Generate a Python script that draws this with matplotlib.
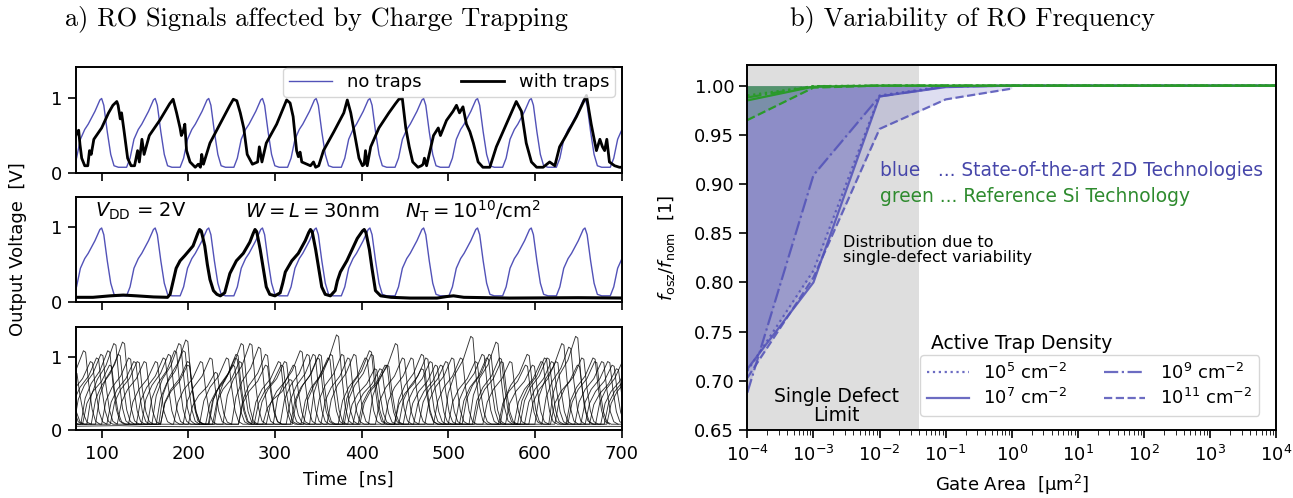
import matplotlib.pyplot as plt
from matplotlib.ticker import FormatStrFormatter

# ---------------- a) RO signals ----------------
# one trap-free oscillation, relative to its peak time [ns]
cycle_dt = [-33, -29, -24.5, -19.5, -15.5, -7.7, -2, 0, 2.5, 6.5, 10.5, 14.3, 19.3]
cycle_v = [0.08, 0.2, 0.45, 0.58, 0.65, 0.82, 0.97, 0.99, 0.9, 0.55, 0.25, 0.1, 0.08]
peaks_notraps = [38, 100, 161.8, 223.6, 285.6, 347.6, 409.6, 471.6, 533.8, 595.8, 657.8, 720]

# top panel, with traps
t_traps1 = [70, 72, 73.5, 75, 77, 80.5, 84, 86, 88, 91, 100, 108, 113, 117.5, 119, 121.5, 123, 124.5,
            126, 130, 134, 138, 141.5, 143.5, 146.5, 149, 155, 167, 178.5, 182.5, 186.5, 190.5, 192,
            194, 196, 198, 202, 208, 211.5, 214, 215.5, 217.5, 225, 236.5, 248, 252, 256, 260, 264,
            268, 274, 280, 282, 285, 290, 302, 311, 313.5, 317.5, 321, 325, 327, 329, 331, 337, 341,
            344.5, 347, 350.5, 356, 368, 379.5, 383.5, 387.5, 393, 397, 401, 403, 404.5, 406.5, 410.5,
            420, 431.5, 439, 443, 447, 449, 451, 455, 459, 465, 469, 471, 472.5, 475, 483, 488.5, 491,
            498, 505.5, 509.5, 513, 517, 521, 525, 529, 534.5, 540, 548, 555.5, 567, 578.5, 584.5, 590,
            596, 602, 609.5, 617, 623, 628.5, 636, 648, 659.5, 665, 671, 675, 678, 680.5, 683, 686,
            692, 697.5, 700]
v_traps1 = [0.49, 0.55, 0.57, 0.38, 0.2, 0.1, 0.1, 0.3, 0.25, 0.45, 0.6, 0.8, 0.9, 0.95, 0.9, 0.72, 0.8, 0.68,
            0.55, 0.2, 0.1, 0.1, 0.3, 0.15, 0.45, 0.25, 0.5, 0.7, 0.92, 0.98, 0.8, 0.6, 0.5,
            0.55, 0.65, 0.3, 0.15, 0.08, 0.12, 0.08, 0.25, 0.12, 0.4, 0.65, 0.9, 0.98, 0.96, 0.8, 0.6,
            0.25, 0.12, 0.15, 0.35, 0.15, 0.4, 0.65, 0.9, 0.97, 0.93, 0.75, 0.3, 0.22, 0.28, 0.15, 0.12, 0.1,
            0.15, 0.08, 0.1, 0.3, 0.55, 0.8, 0.97, 0.8, 0.45, 0.2, 0.1, 0.12, 0.3, 0.1, 0.35,
            0.6, 0.8, 0.92, 0.98, 0.99, 0.8, 0.6, 0.35, 0.15, 0.08, 0.1, 0.12, 0.2, 0.1, 0.5, 0.6, 0.5,
            0.7, 0.82, 0.9, 0.8, 0.88, 0.65, 0.55, 0.4, 0.15, 0.08, 0.08, 0.35, 0.65, 0.95, 0.82, 0.4,
            0.15, 0.08, 0.08, 0.15, 0.1, 0.35, 0.5, 0.75, 1.03, 0.65, 0.3, 0.45, 0.35, 0.3, 0.45, 0.15,
            0.1, 0.08, 0.08]

# middle panel, with traps
t_traps2 = [60, 90, 110, 125, 140, 160, 176, 179, 183, 186, 190.5, 196, 205.5, 211, 213, 215, 219, 222,
            225, 229, 233, 237, 242, 245, 248, 255.5, 263.5, 271, 275, 277, 279, 283, 286.5, 290, 294,
            300, 306, 309, 312, 319.5, 327, 335, 339, 341, 343, 347, 350.5, 354, 358, 364, 369.5, 372,
            375.5, 383, 389, 395, 401, 403, 405, 409, 412, 416, 422, 434, 456, 487, 498, 506, 518, 571,
            650, 710]
v_traps2 = [0.06, 0.06, 0.08, 0.09, 0.08, 0.065, 0.06, 0.1, 0.3, 0.45, 0.55, 0.62, 0.75, 0.92, 0.97, 0.95, 0.75, 0.5,
            0.3, 0.15, 0.1, 0.08, 0.12, 0.25, 0.38, 0.55, 0.65, 0.8, 0.92, 0.97, 0.94, 0.7, 0.45, 0.2, 0.1,
            0.08, 0.12, 0.25, 0.4, 0.55, 0.65, 0.82, 0.93, 0.97, 0.94, 0.7, 0.45, 0.2, 0.1, 0.08, 0.15, 0.28,
            0.4, 0.55, 0.7, 0.85, 0.95, 0.97, 0.93, 0.7, 0.45, 0.15, 0.08, 0.06, 0.05, 0.05, 0.07, 0.08, 0.06, 0.05,
            0.055, 0.05]

# bottom panel: ensemble of trap realisations (peak times / heights)
ens_dt = [-32, -27, -20, -10, -4, -1, 1.5, 5, 9, 13, 18]
ens_frac = [0, 0.35, 0.55, 0.72, 0.9, 0.99, 0.97, 0.55, 0.2, 0.04, 0]
ens_base = 0.08
ens_peaks = [
    [45, 100, 163, 226, 290, 352, 416, 480, 545, 608, 670, 732],
    [50, 108, 172, 245, 312, 372, 440, 505, 572, 640, 702],
    [60, 125, 198, 272, 338, 405, 470, 527, 598, 648, 712],
    [55, 115, 185, 256, 330, 392, 458, 540, 615, 685],
    [40, 95, 150, 215, 282, 345, 410, 475, 556, 625, 690],
    [62, 120, 190, 260, 318, 385, 448, 515, 590, 655, 715],
    [35, 88, 142, 200, 262, 322, 378, 430, 492, 562, 632, 695],
    [52, 110, 178, 232, 290, 350, 412, 470, 532, 592, 650, 708],
    [70, 132, 200, 252, 305, 365, 428, 498, 560, 620, 678],
    [80, 138, 195, 255, 308, 362, 422, 486, 548, 612, 668],
]
ens_heights = [
    [1.0, 1.05, 0.95, 1.0, 0.9, 1.05, 0.85, 0.95, 1.0, 0.95, 0.95, 0.9],
    [1.0, 1.1, 1.0, 1.0, 0.95, 1.32, 1.2, 1.0, 0.95, 1.15, 0.95],
    [0.9, 1.22, 1.25, 1.2, 1.05, 1.0, 1.05, 1.3, 0.9, 1.3, 0.9],
    [0.95, 1.2, 1.1, 1.05, 1.1, 1.05, 1.0, 1.05, 1.0, 0.95],
    [0.9, 1.0, 0.95, 0.95, 1.15, 1.05, 1.1, 1.0, 1.22, 0.95, 0.9],
    [0.9, 1.05, 1.2, 0.95, 0.7, 1.0, 1.0, 1.0, 0.9, 1.0, 0.9],
    [0.9, 0.95, 0.95, 0.95, 1.2, 0.9, 1.05, 0.9, 0.9, 0.95, 1.2, 0.85],
    [0.9, 0.9, 1.05, 0.8, 1.05, 1.0, 1.05, 0.85, 0.95, 1.05, 0.9, 0.9],
    [0.8, 1.0, 0.9, 0.9, 0.95, 1.05, 0.9, 0.95, 1.0, 0.95, 0.95],
    [1.1, 0.95, 1.1, 1.0, 0.9, 1.0, 0.85, 0.9, 1.05, 1.0, 1.0],
]
flat_t = [60, 120, 150, 200, 400, 700, 710]
flat_v = [0.05, 0.06, 0.05, 0.045, 0.05, 0.05, 0.05]

# ---------------- b) frequency variability ----------------
area = [1e-4, 1e-3, 1e-2, 1e-1, 1e0, 1e1, 1e2, 1e3, 1e4]
area_1e11 = [1e-4, 1e-3, 1e-2, 1e-1, 1e0]
f2d_1e5 = [0.710, 0.812, 0.990, 0.9995, 1.0, 1.0, 1.0, 1.0, 1.0]
f2d_1e7 = [0.712, 0.800, 0.989, 0.9985, 1.0, 1.0, 1.0, 1.0, 1.0]
f2d_1e9 = [0.688, 0.909, 0.989, 0.999, 1.0, 1.0, 1.0, 1.0, 1.0]
f2d_1e11 = [0.703, 0.805, 0.956, 0.986, 0.997]
fsi_1e5 = [0.990, 0.9995, 1.0, 1.0, 1.0, 1.0, 1.0, 1.0, 1.0]
fsi_1e7 = [0.985, 0.999, 1.0, 1.0, 1.0, 1.0, 1.0, 1.0, 1.0]
fsi_1e9 = [0.988, 0.9993, 1.0, 1.0, 1.0, 1.0, 1.0, 1.0, 1.0]
fsi_1e11 = [0.965, 0.998, 1.0, 1.0, 1.0, 1.0, 1.0, 1.0, 1.0]
density_labels = ['$10^{5}$ cm$^{-2}$', '$10^{7}$ cm$^{-2}$', '$10^{9}$ cm$^{-2}$', '$10^{11}$ cm$^{-2}$']

plt.rcParams['font.size'] = 13
plt.rcParams['axes.linewidth'] = 1.4
plt.rcParams['xtick.major.width'] = 1.2
plt.rcParams['ytick.major.width'] = 1.2
plt.rcParams['xtick.major.size'] = 6
plt.rcParams['ytick.major.size'] = 6
plt.rcParams['xtick.minor.size'] = 3.5
plt.rcParams['xtick.major.pad'] = 4.5

blue = '#5252b8'
green = '#2a9a2a'

fig = plt.figure(figsize=(12.93, 4.98), dpi=100)
rects = [[0.0585, 0.652, 0.4222, 0.214],
         [0.0585, 0.394, 0.4222, 0.211],
         [0.0585, 0.1365, 0.4222, 0.206]]
axs = [fig.add_axes(r) for r in rects]

t_nt = [p + d for p in peaks_notraps for d in cycle_dt]
v_nt = cycle_v * len(peaks_notraps)

axs[0].plot(t_nt, v_nt, color=blue, lw=1.0, label='no traps')
axs[0].plot(t_traps1, v_traps1, color='k', lw=2.0, label='with traps')
axs[0].legend(loc='upper right', bbox_to_anchor=(1.004, 1.075), ncol=2, fontsize=13,
              handlelength=2.4, columnspacing=2.2, borderpad=0.3, labelspacing=0.2)

axs[1].plot(t_nt, v_nt, color=blue, lw=1.0)
axs[1].plot(t_traps2, v_traps2, color='k', lw=2.2)
axs[1].text(0.035, 0.86, r'$V_\mathrm{DD}$ = 2V', transform=axs[1].transAxes, fontsize=14, va='center')
axs[1].text(0.31, 0.86, r'$W = L = 30$nm', transform=axs[1].transAxes, fontsize=14, va='center')
axs[1].text(0.603, 0.86, r'$N_\mathrm{T} = 10^{10}$/cm$^2$', transform=axs[1].transAxes, fontsize=14, va='center')

for pk, hs in zip(ens_peaks, ens_heights):
    tt, vv = [], []
    for p, h in zip(pk, hs):
        for d, fr in zip(ens_dt, ens_frac):
            tt.append(p + d)
            vv.append(ens_base + (h - ens_base) * fr)
    axs[2].plot(tt, vv, color='k', lw=0.65, alpha=0.8)
axs[2].plot(flat_t, flat_v, color='k', lw=0.65, alpha=0.8)

for i, ax in enumerate(axs):
    ax.set_xlim(70, 700)
    ax.set_ylim(0, 1.41)
    ax.set_yticks([0, 1])
    ax.set_xticks([100, 200, 300, 400, 500, 600, 700])
    if i < 2:
        ax.set_xticklabels([])
axs[2].set_xlabel('Time  [ns]', labelpad=6)
fig.text(0.014, 0.5, 'Output Voltage  [V]', rotation=90, va='center', ha='center', fontsize=13)

fig.text(0.245, 0.962, 'a) RO Signals affected by Charge Trapping', family='cmr10', fontsize=19,
         ha='center', va='center')
fig.text(0.752, 0.962, 'b) Variability of RO Frequency', family='cmr10', fontsize=19,
         ha='center', va='center')

# ---------------- right panel ----------------
ax = fig.add_axes([0.578, 0.1365, 0.409, 0.733])
ax.set_xscale('log')
ax.axvspan(1e-4, 0.04, color='0.87', zorder=0, lw=0)

styles = [':', '-', '-.', '--']
blue_sets = [(area, f2d_1e5), (area, f2d_1e7), (area, f2d_1e9), (area_1e11, f2d_1e11)]
green_sets = [fsi_1e5, fsi_1e7, fsi_1e9, fsi_1e11]
handles = []
for (xa, fa), ls, lab in zip(blue_sets, styles, density_labels):
    ax.fill_between(xa, fa, 1.0, color=blue, alpha=0.19, lw=0)
    h, = ax.plot(xa, fa, color=blue, ls=ls, lw=1.6, alpha=0.85, label=lab)
    handles.append(h)
for fs, ls in zip(green_sets, styles):
    ax.fill_between(area, fs, 1.0, color=green, alpha=0.19, lw=0)
    ax.plot(area, fs, color=green, ls=ls, lw=1.6)

ax.set_xlim(1e-4, 1e4)
ax.set_ylim(0.65, 1.021)
ax.set_xticks([10.0 ** k for k in range(-4, 5)])
ax.set_yticks([0.65, 0.70, 0.75, 0.80, 0.85, 0.90, 0.95, 1.00])
ax.yaxis.set_major_formatter(FormatStrFormatter('%.2f'))
ax.set_xlabel(r'Gate Area  [$\mathrm{\mu}$m$^2$]', labelpad=6)
ax.set_ylabel(r'$f_\mathrm{osz}/f_\mathrm{nom}$  [1]', labelpad=12)

ax.text(0.0022, 0.674, 'Single Defect\nLimit', ha='center', va='center', fontsize=13.5, linespacing=1.0)
ax.text(0.0028, 0.833, 'Distribution due to\nsingle-defect variability', ha='left', va='center',
        fontsize=11.5, linespacing=1.05)
ax.text(0.01, 0.914, 'blue   ... State-of-the-art 2D Technologies', color='#4646aa', fontsize=13.4,
        va='center')
ax.text(0.01, 0.887, 'green ... Reference Si Technology', color='#2e8b2e', fontsize=13.4, va='center')
ax.text(0.348, 0.238, 'Active Trap Density', transform=ax.transAxes, fontsize=13.5, va='center')
ax.legend(handles=handles, loc='lower right', bbox_to_anchor=(0.985, 0.015), ncol=2, fontsize=13,
          handlelength=2.3, columnspacing=2.0, borderpad=0.4, labelspacing=0.3)

fig.savefig('out.png', dpi=100)
